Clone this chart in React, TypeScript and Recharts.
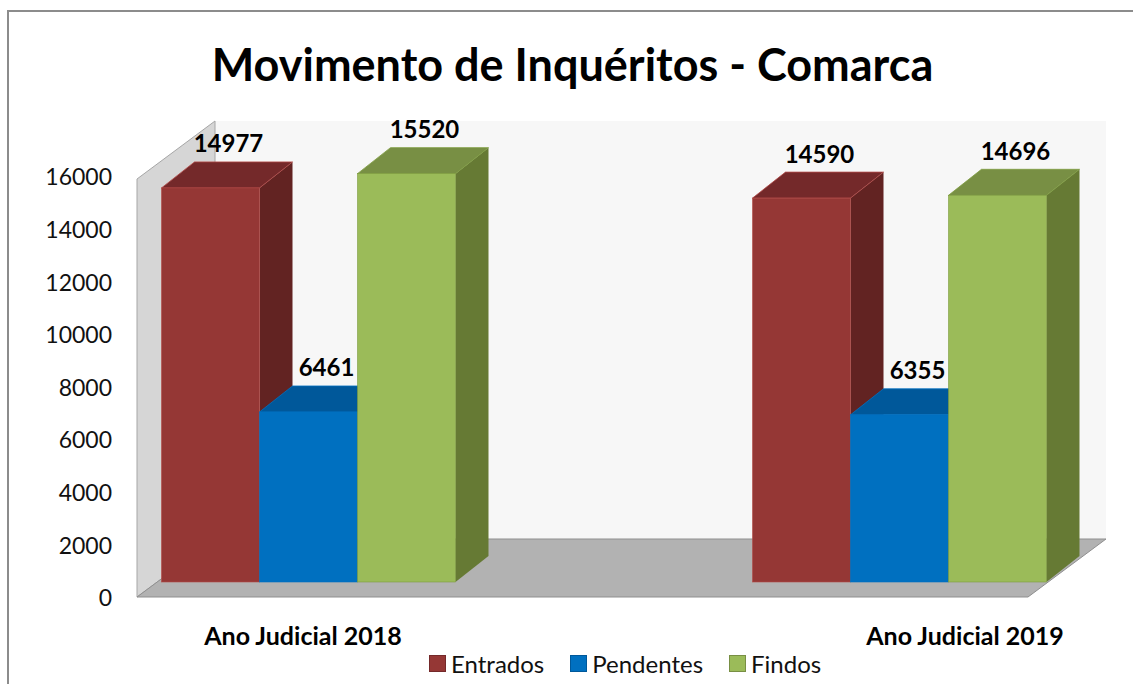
import React from 'react';
import { BarChart, Bar, XAxis, YAxis, Legend, LabelList, ReferenceArea } from 'recharts';

const ANOS = ['Ano Judicial 2018', 'Ano Judicial 2019'];
const ENTRADOS = [14977, 14590];
const PENDENTES = [6461, 6355];
const FINDOS = [15520, 14696];
const Y_TICKS = [0, 2000, 4000, 6000, 8000, 10000, 12000, 14000, 16000];

const data = ANOS.map((ano, i) => ({
  ano,
  entrados: ENTRADOS[i],
  pendentes: PENDENTES[i],
  findos: FINDOS[i],
}));

const SERIES = [
  { key: 'entrados', name: 'Entrados', front: '#953735', top: '#74292a', side: '#622322', edge: '#b24a47' },
  { key: 'pendentes', name: 'Pendentes', front: '#0070c0', top: '#00589a', side: '#004f88', edge: '#0070c0' },
  { key: 'findos', name: 'Findos', front: '#9bbb59', top: '#788f44', side: '#667a34', edge: '#7e9c3f' },
];

const FONT = 'Lato, "Open Sans", sans-serif';
// bar depth and floor depth (3D look)
const BDX = 33;
const BDY = -26;
const FDX = 78;
const FDY = -58;
const PAD_L = -124.5;
const PAD_R = -166.5;

const makeBox = (s: any) => (props: any) => {
  const { x, y, width: w, height: h } = props;
  if (h == null || w == null) return null;
  return (
    <g>
      <polygon
        points={`${x + w},${y} ${x + w + BDX},${y + BDY} ${x + w + BDX},${y + h + BDY} ${x + w},${y + h}`}
        fill={s.side}
      />
      <polygon
        points={`${x},${y} ${x + w},${y} ${x + w + BDX},${y + BDY} ${x + BDX},${y + BDY}`}
        fill={s.top}
        stroke={s.edge}
        strokeWidth={0.8}
      />
      <rect x={x} y={y} width={w} height={h} fill={s.front} stroke={s.edge} strokeWidth={0.6} />
    </g>
  );
};

// floor, left wall and back wall drawn around the plot area
const Room = (props: any) => {
  const { x, y, width, height } = props;
  const L = x - PAD_L;
  const R = x + width + PAD_R;
  const top = y + 18;
  const bottom = y + height + 15;
  return (
    <g>
      <rect x={L + FDX} y={top + FDY} width={R - L} height={bottom - top} fill="#f7f7f7" />
      <polygon
        points={`${L},${bottom} ${L},${top} ${L + FDX},${top + FDY} ${L + FDX},${bottom + FDY}`}
        fill="#d6d6d6"
        stroke="#a6a6a6"
        strokeWidth={1}
      />
      <polygon
        points={`${L},${bottom} ${R},${bottom} ${R + FDX},${bottom + FDY} ${L + FDX},${bottom + FDY}`}
        fill="#b2b2b2"
        stroke="#8f8f8f"
        strokeWidth={1}
      />
    </g>
  );
};

const renderValue = (props: any) => {
  const { x, y, width, value } = props;
  return (
    <text
      x={x + width / 2 + 18}
      y={y + BDY - 19}
      textAnchor="middle"
      dominantBaseline="central"
      fontFamily={FONT}
      fontWeight={700}
      fontSize={24}
      fill="#000"
    >
      {value}
    </text>
  );
};

const YTick = (props: any) => {
  const { x, y, payload } = props;
  return (
    <text x={x} y={y + 16} dy="0.36em" textAnchor="end" fontFamily={FONT} fontSize={23} fill="#111">
      {payload.value}
    </text>
  );
};

const XTick = (props: any) => {
  const { x, y, payload } = props;
  const shift = payload.index === 0 ? -5 : 66;
  return (
    <text x={x + shift} y={y} textAnchor="middle" fontFamily={FONT} fontWeight={700} fontSize={25} fill="#000">
      {payload.value}
    </text>
  );
};

const LegendContent = (props: any) => {
  const items = SERIES.map((s) => (props.payload || []).find((p: any) => p.value === s.name) || { value: s.name });
  return (
    <div style={{ display: 'flex', alignItems: 'center', fontFamily: FONT, fontSize: 24, color: '#111' }}>
      {items.map((p: any, i: number) => {
        const s = SERIES[i];
        return (
          <div key={p.value} style={{ display: 'flex', alignItems: 'center', marginRight: 26 }}>
            <span
              style={{
                display: 'inline-block',
                width: 15,
                height: 15,
                background: s.front,
                border: `1px solid ${s.top}`,
                marginRight: 5,
              }}
            />
            <span>{p.value}</span>
          </div>
        );
      })}
    </div>
  );
};

export default function App() {
  return (
    <div style={{ position: 'absolute', left: 0, top: 0, width: 1133, height: 684, overflow: 'hidden', background: '#fff' }}>
      <div
        style={{
          position: 'absolute',
          left: 7,
          top: 10,
          width: 1140,
          height: 700,
          border: '2px solid #8c8c8c',
          boxSizing: 'border-box',
        }}
      />
      <div
        style={{
          position: 'absolute',
          left: 0,
          width: 1145,
          top: 42,
          textAlign: 'center',
          fontFamily: FONT,
          fontWeight: 700,
          fontSize: 45,
          lineHeight: 1,
          color: '#000',
        }}
      >
        Movimento de Inquéritos - Comarca
      </div>
      <div style={{ position: 'absolute', left: 0, top: 0 }}>
        <BarChart
          width={1133}
          height={684}
          data={data}
          margin={{ top: 161, right: 105, bottom: 72, left: 0 }}
          barSize={98}
          barGap={0}
        >
          <ReferenceArea y1={0} y2={16000} shape={<Room />} />
          <XAxis
            dataKey="ano"
            height={30}
            padding={{ left: PAD_L, right: PAD_R }}
            axisLine={false}
            tickLine={false}
            tickSize={0}
            tickMargin={63}
            tick={<XTick />}
            interval={0}
          />
          <YAxis
            width={137}
            domain={[0, 16000]}
            ticks={Y_TICKS}
            axisLine={false}
            tickLine={false}
            tickSize={0}
            tickMargin={25}
            tick={<YTick />}
            interval={0}
          />
          <Legend
            verticalAlign="middle"
            layout="horizontal"
            wrapperStyle={{ top: 649, left: 429, width: 'auto' }}
            content={<LegendContent />}
          />
          {SERIES.map((s) => (
            <Bar
              key={s.key}
              dataKey={s.key}
              name={s.name}
              fill={s.front}
              shape={makeBox(s)}
              isAnimationActive={false}
            >
              <LabelList dataKey={s.key} content={renderValue} />
            </Bar>
          ))}
        </BarChart>
      </div>
    </div>
  );
}
